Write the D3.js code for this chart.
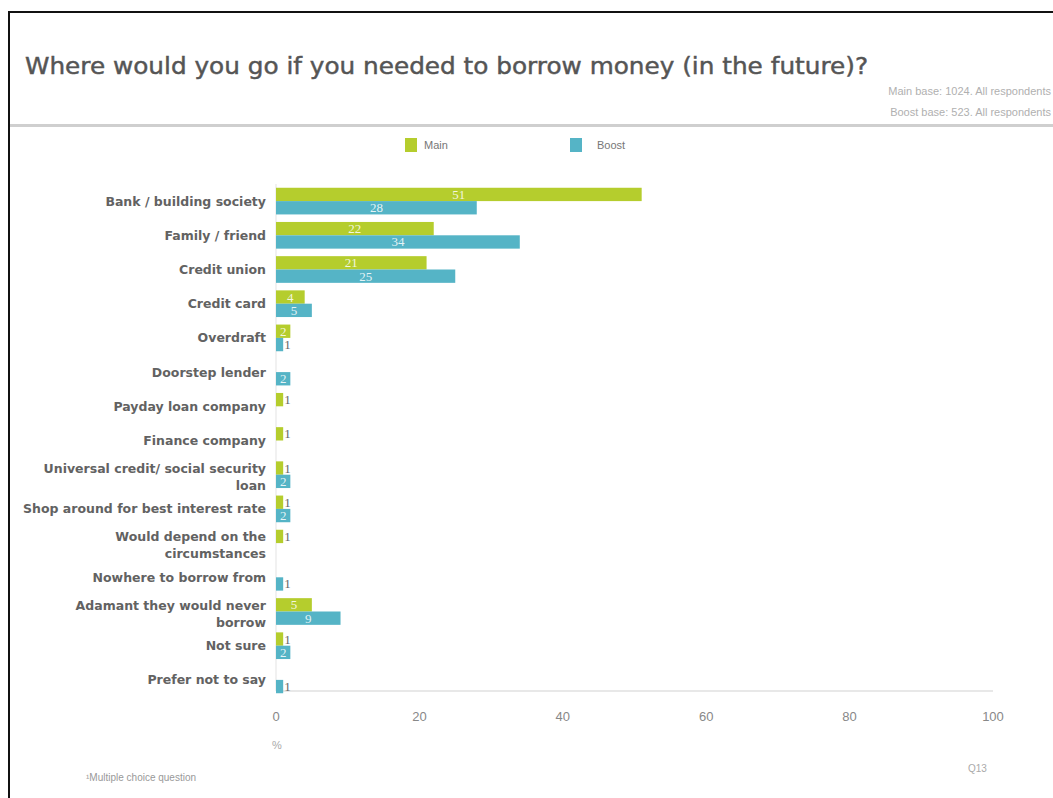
<!DOCTYPE html>
<html><head><meta charset="utf-8">
<script src="https://cdn.jsdelivr.net/npm/d3@7"></script>
<style>body{margin:0;background:#fff}svg{display:block}</style>
</head><body>
<svg id="chart" width="1053" height="798"></svg>
<script>
const categories = [
  ["Bank / building society"],
  ["Family / friend"],
  ["Credit union"],
  ["Credit card"],
  ["Overdraft"],
  ["Doorstep lender"],
  ["Payday loan company"],
  ["Finance company"],
  ["Universal credit/ social security", "loan"],
  ["Shop around for best interest rate"],
  ["Would depend on the", "circumstances"],
  ["Nowhere to borrow from"],
  ["Adamant they would never", "borrow"],
  ["Not sure"],
  ["Prefer not to say"]
];
const seriesNames = ["Main", "Boost"];
const mainValues  = [51, 22, 21, 4, 2, null, 1, 1, 1, 1, 1, null, 5, 1, null];
const boostValues = [28, 34, 25, 5, 1, 2, null, null, 2, 2, null, 1, 9, 2, 1];
const xTicks = [0, 20, 40, 60, 80, 100];
const colors = ["#b5cd2d", "#55b4c6"];

const svg = d3.select("#chart");
const keys = categories.map((c, i) => "c" + i);
const x = d3.scaleLinear().domain([0, 100]).range([276, 993]);
const y = d3.scaleBand().domain(keys).range([184, 697]).paddingInner(0.22).paddingOuter(0.11);
const ySub = d3.scaleBand().domain(seriesNames).range([0, y.bandwidth()]);

// frame
svg.append("rect").attr("x", 9).attr("y", 12).attr("width", 1100).attr("height", 900)
  .attr("fill", "none").attr("stroke", "#111").attr("stroke-width", 2);
svg.append("line").attr("x1", 10).attr("x2", 1053).attr("y1", 125.5).attr("y2", 125.5)
  .attr("stroke", "#cfcfcf").attr("stroke-width", 3);

// title
svg.append("text").attr("x", 25).attr("y", 74)
  .attr("font-family", "DejaVu Sans").attr("font-size", 23).attr("fill", "#555")
  .attr("stroke", "#555").attr("stroke-width", 0.45)
  .attr("textLength", 843).attr("lengthAdjust", "spacingAndGlyphs")
  .text("Where would you go if you needed to borrow money (in the future)?");
svg.append("text").attr("x", 1051).attr("y", 95).attr("text-anchor", "end")
  .attr("font-family", "Liberation Sans").attr("font-size", 11).attr("fill", "#b0b0b0")
  .text("Main base: 1024. All respondents");
svg.append("text").attr("x", 1051).attr("y", 116).attr("text-anchor", "end")
  .attr("font-family", "Liberation Sans").attr("font-size", 11).attr("fill", "#b0b0b0")
  .text("Boost base: 523. All respondents");

// legend
const legendX = [405, 570];
seriesNames.forEach((s, i) => {
  svg.append("rect").attr("x", legendX[i]).attr("y", 138).attr("width", 12).attr("height", 14).attr("fill", colors[i]);
  svg.append("text").attr("x", legendX[i] + (i === 0 ? 19 : 27)).attr("y", 149)
    .attr("font-family", "Liberation Sans Narrow, Liberation Sans").attr("font-size", 11).attr("fill", "#777").text(s);
});

// axis lines
svg.append("line").attr("x1", x(0)).attr("x2", x(0)).attr("y1", y.range()[0]).attr("y2", 691)
  .attr("stroke", "#e3e3e3");
svg.append("line").attr("x1", x(0)).attr("x2", x(100)).attr("y1", 691).attr("y2", 691)
  .attr("stroke", "#e0e0e0").attr("stroke-width", 1.5);

// x tick labels
svg.selectAll(".xt").data(xTicks).join("text")
  .attr("x", d => x(d)).attr("y", 721).attr("text-anchor", "middle")
  .attr("font-family", "Liberation Sans Narrow, Liberation Sans").attr("font-size", 13).attr("fill", "#888")
  .text(d => d);
svg.append("text").attr("x", x(0) - 4).attr("y", 749).attr("font-family", "Liberation Sans Narrow, Liberation Sans")
  .attr("font-size", 11).attr("fill", "#aaa").text("%");

// category labels
categories.forEach((lines, i) => {
  const cy = y(keys[i]) + y.bandwidth() / 2;
  const n = lines.length;
  const t = svg.append("text").attr("text-anchor", "end")
    .attr("font-family", "DejaVu Sans").attr("font-weight", "bold").attr("font-size", 12.5).attr("fill", "#626262");
  lines.forEach((l, j) => {
    t.append("tspan").attr("x", 266).attr("y", cy + 4.5 + (j - (n - 1) / 2) * 17 + (n > 1 ? 2 : 0)).text(l);
  });
});

// bars
const series = [mainValues, boostValues];
series.forEach((vals, si) => {
  const g = svg.append("g");
  vals.forEach((v, i) => {
    if (v == null) return;
    const by = y(keys[i]) + ySub(seriesNames[si]);
    g.append("rect").attr("x", x(0)).attr("y", by).attr("width", x(v) - x(0)).attr("height", ySub.bandwidth())
      .attr("fill", colors[si]);
    const inside = v >= 2;
    g.append("text")
      .attr("x", inside ? (x(0) + x(v)) / 2 : x(v) + 1)
      .attr("y", by + ySub.bandwidth() / 2 + 4.5)
      .attr("text-anchor", inside ? "middle" : "start")
      .attr("font-family", "Liberation Serif").attr("font-size", 13)
      .attr("fill", inside ? "#ffffff" : "#666")
      .attr("fill-opacity", inside ? 0.85 : 1)
      .text(v);
  });
});

// footer
svg.append("text").attr("x", 968).attr("y", 772).attr("font-family", "Liberation Sans Narrow, Liberation Sans")
  .attr("font-size", 10).attr("fill", "#aaa").text("Q13");
svg.append("text").attr("x", 86).attr("y", 781).attr("font-family", "Liberation Sans")
  .attr("font-size", 10).attr("fill", "#999").text("¹Multiple  choice question");
</script>
</body></html>
